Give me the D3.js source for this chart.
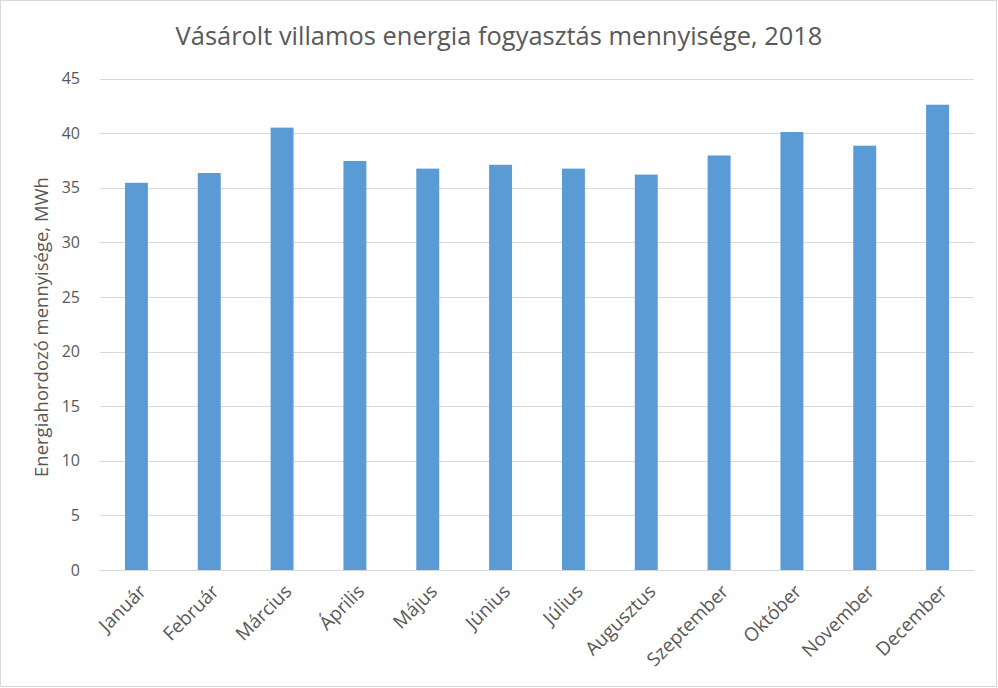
<!DOCTYPE html>
<html>
<head>
<meta charset="utf-8">
<script src="https://cdn.jsdelivr.net/npm/d3@7"></script>
<style>
  html, body { margin: 0; padding: 0; background: #fff; }
  svg { display: block; }
  text { font-family: "Open Sans", "Noto Sans", sans-serif; fill: #595959; }
</style>
</head>
<body>
<svg id="chart" width="998" height="688"></svg>
<script>
const months = ["Január","Február","Március","Április","Május","Június","Július","Augusztus","Szeptember","Október","November","December"];
const values = [35.45, 36.35, 40.5, 37.45, 36.75, 37.1, 36.75, 36.2, 37.95, 40.1, 38.85, 42.6];
const yTicks = [0, 5, 10, 15, 20, 25, 30, 35, 40, 45];
const titleText = "Vásárolt villamos energia fogyasztás mennyisége, 2018";
const yTitleText = "Energiahordozó mennyisége, MWh";

const W = 998, H = 688;
const margin = { left: 100, right: 24, top: 78.5, bottom: 118 };
const svg = d3.select("#chart");

svg.append("rect").attr("x", 0.5).attr("y", 0.5).attr("width", W - 2).attr("height", H - 2)
  .attr("fill", "#fff").attr("stroke", "#d9d9d9").attr("stroke-width", 1);

const x = d3.scaleBand().domain(months).range([margin.left, W - margin.right]).paddingInner(0.685).paddingOuter(0.3425);
const y = d3.scaleLinear().domain([0, 45]).range([H - margin.bottom, margin.top]);

// fit text helper
function fitSize(sel, target) {
  const len = sel.node().getComputedTextLength();
  const fs = parseFloat(sel.attr("font-size"));
  sel.attr("font-size", fs * target / len);
}

// grid
svg.append("g").selectAll("line").data(yTicks).join("line")
  .attr("x1", margin.left).attr("x2", W - margin.right)
  .attr("y1", d => Math.round(y(d)) + 0.5).attr("y2", d => Math.round(y(d)) + 0.5)
  .attr("stroke", "#d9d9d9").attr("stroke-width", 1);

// y axis labels
const yAxis = d3.axisLeft(y).tickValues(yTicks).tickSize(0).tickPadding(0);
const yg = svg.append("g").attr("transform", `translate(80,0)`).call(yAxis);
yg.select(".domain").remove();
yg.selectAll("text").attr("font-size", 16).attr("fill", "#595959")
  .style("font-family", '"Open Sans", "Noto Sans", sans-serif');

// bars
svg.append("g").selectAll("rect").data(values).join("rect")
  .attr("x", (d, i) => x(months[i]))
  .attr("width", x.bandwidth())
  .attr("y", d => y(d))
  .attr("height", d => y(0) - y(d))
  .attr("fill", "#5b9bd5");

// x axis labels
const xAxis = d3.axisBottom(x).tickSize(0).tickPadding(0);
const xg = svg.append("g").attr("transform", `translate(0,${y(0)})`).call(xAxis);
xg.select(".domain").remove();
xg.selectAll("text")
  .attr("font-size", 15)
  .style("font-family", '"Open Sans", "Noto Sans", sans-serif')
  .attr("fill", "#595959")
  .attr("text-anchor", "end")
  .attr("dy", "0.35em")
  .attr("transform", "translate(6,18) rotate(-45)");
// scale x labels to Calibri-like width
const szept = xg.selectAll("text").filter(d => d === "Szeptember");
const len0 = szept.node().getComputedTextLength();
const xfs = 15 * 106 / len0;
xg.selectAll("text").attr("font-size", xfs);

// title
const title = svg.append("text").attr("x", W / 2).attr("y", 45)
  .attr("text-anchor", "middle").attr("font-size", 20).attr("fill", "#595959").text(titleText);
fitSize(title, 647);

// y title
const yt = svg.append("text").attr("transform", `translate(48,327) rotate(-90)`)
  .attr("text-anchor", "middle").attr("font-size", 15).attr("fill", "#595959").text(yTitleText);
fitSize(yt, 300);
</script>
</body>
</html>
